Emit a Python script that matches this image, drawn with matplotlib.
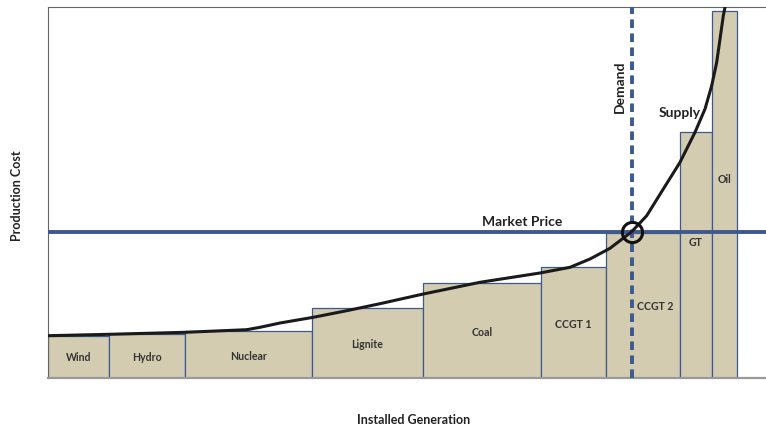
import matplotlib
matplotlib.use("Agg")
from matplotlib import pyplot as plt

# merit order data (arbitrary units)
plants = ["Wind", "Hydro", "Nuclear", "Lignite", "Coal", "CCGT 1", "CCGT 2", "GT", "Oil"]
capacity = [61, 76, 127, 111, 118, 65, 74, 32, 25]
cost = [42, 43.4, 47, 70, 94.4, 110.4, 144.4, 245.4, 367]

# supply curve
supply_x = [0, 61, 137, 198.7, 212, 232, 265.3, 298.7, 332, 375.3, 432, 492, 522, 542, 562,
            583.7, 598.7, 615.3, 632, 647, 657, 663.7, 668.7, 672, 675.3, 677]
supply_y = [42, 43.4, 45.4, 48, 50.4, 54.7, 60.4, 67, 74, 83.7, 95.4, 104.7, 110.4, 118.7, 129.4,
            146, 162, 188.7, 215.4, 245.4, 268.7, 292, 315.4, 338.7, 362, 370.4]

market_price = 146
demand = 583.7

tan = "#d3ccb0"
blue = "#3d5a8e"

fig = plt.figure(figsize=(7.66, 4.27), dpi=100)
ax = fig.add_axes([48/766, 48.3/427, 718/766, 370.4/427])

# bars
left = 0
lefts = []
for w in capacity:
    lefts.append(left)
    left += w
ax.bar(lefts, cost, width=capacity, align="edge", color=tan, edgecolor=blue, lw=0.9, zorder=2)

# bar labels
lab_y = [21, 21.5, 22.5, 34.5, 46.5, 54.5, 72.5, 136, 199.5]
for i, name in enumerate(plants):
    xc = lefts[i] + capacity[i]/2
    ha = "center"
    if name == "CCGT 2":
        xc = lefts[i] + 31
        ha = "left"
    ax.text(xc, lab_y[i], name, ha=ha, va="center", fontsize=7.6, fontweight="bold",
            color="#333333", family="Lato", zorder=5)

ax.axhline(market_price, color=blue, lw=2.8, zorder=3)
ax.axvline(demand, color=blue, lw=2.8, ls=(0, (2.2, 1.4)), zorder=3)
ax.plot(supply_x, supply_y, color="#1a1a1a", lw=2.2, zorder=4, solid_joinstyle="round")
ax.plot([demand], [market_price], "o", ms=14.5, mfc="none", mec="#111111", mew=2.2, zorder=6)

ax.text(474, 156.5, "Market Price", ha="center", va="center", fontsize=10, fontweight="bold",
        color="#222222", family="Lato")
ax.text(632, 265.5, "Supply", ha="center", va="center", fontsize=10, fontweight="bold",
        color="#222222", family="Lato")
ax.text(572, 291.5, "Demand", ha="center", va="center", rotation=90, fontsize=10,
        fontweight="bold", color="#222222", family="Lato")

ax.set_xlim(0, 718)
ax.set_ylim(0, 370.4)
ax.set_xticks([])
ax.set_yticks([])
ax.spines["right"].set_visible(False)
ax.spines["top"].set_color("#666666")
ax.spines["top"].set_linewidth(0.8)
ax.spines["left"].set_color("#666666")
ax.spines["left"].set_linewidth(0.8)
ax.spines["bottom"].set_color("#999999")
ax.spines["bottom"].set_linewidth(1.6)

fig.text(17/766, 1 - 196/427, "Production Cost", rotation=90, ha="center", va="center",
         fontsize=9, fontweight="bold", color="#222222", family="Lato")
fig.text(414/766, 1 - 420/427, "Installed Generation", ha="center", va="center",
         fontsize=9, fontweight="bold", color="#222222", family="Lato")

fig.savefig("out.png", dpi=100)
